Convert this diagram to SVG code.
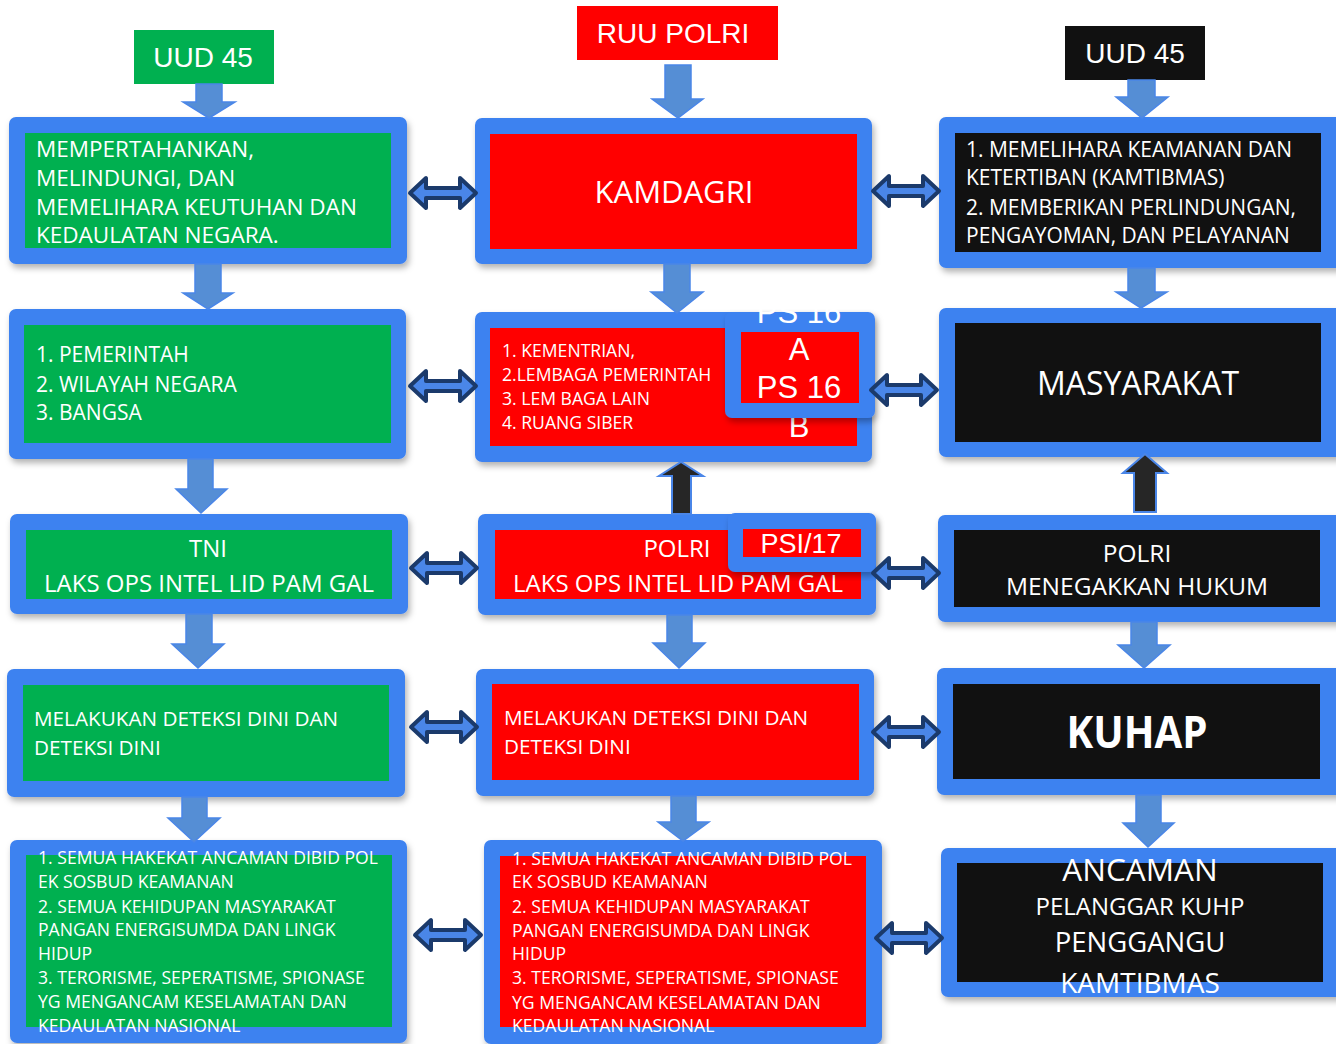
<svg xmlns="http://www.w3.org/2000/svg" xmlns:xlink="http://www.w3.org/1999/xlink" width="1336" height="1044" viewBox="0 0 1336 1044">
<defs>
<filter id="sh" x="-5%" y="-5%" width="115%" height="120%">
<feDropShadow dx="2" dy="4" stdDeviation="3" flood-color="#000" flood-opacity="0.3"/>
</filter>
<path id="dbl" d="M0,0 L16,-15 L16,-5 L50,-5 L50,-15 L66,0 L50,15 L50,5 L16,5 L16,15 Z"/>
</defs>
<style>
.outer{fill:#3E82F0;filter:url(#sh)}
.g{fill:#00B050}.r{fill:#FF0000}.k{fill:#111111}
.t{fill:#FFFFFF;font-family:"Open Sans","DejaVu Sans",sans-serif}
.a{fill:#FFFFFF;font-family:"Liberation Sans",Arial,sans-serif}
.c{text-anchor:middle}
.down{fill:#558ED5;stroke:#4A86E8;stroke-width:1.5}
.up{fill:#262626;stroke:#4A86E8;stroke-width:2}
.dbl{fill:#4A86E8;stroke:#1B3A6B;stroke-width:4;stroke-linejoin:round}
</style>
<rect width="1336" height="1044" fill="#FFFFFF"/>

<!-- headers -->
<g id="hdr-left"><rect x="134" y="30" width="140" height="54" class="g"/><text x="203" y="67" class="a c" font-size="28">UUD 45</text></g>
<g id="hdr-mid"><rect x="577" y="6" width="201" height="54" class="r"/><text x="673" y="43" class="a c" font-size="28">RUU POLRI</text></g>
<g id="hdr-right"><rect x="1065" y="26" width="140" height="54" class="k"/><text x="1135" y="63" class="a c" font-size="28">UUD 45</text></g>

<!-- left column -->
<g id="L1"><rect x="9" y="117" width="398" height="147" rx="7" class="outer"/><rect x="25" y="133" width="366" height="115" class="g"/>
<text class="t" font-size="22.5" x="36"><tspan x="36" y="157">MEMPERTAHANKAN,</tspan><tspan x="36" y="186">MELINDUNGI, DAN</tspan><tspan x="36" y="215">MEMELIHARA KEUTUHAN DAN</tspan><tspan x="36" y="243">KEDAULATAN NEGARA.</tspan></text></g>
<g id="L2"><rect x="9" y="309" width="397" height="150" rx="7" class="outer"/><rect x="24" y="325" width="367" height="118" class="g"/>
<text class="t" font-size="21"><tspan x="36" y="362">1. PEMERINTAH</tspan><tspan x="36" y="392">2. WILAYAH NEGARA</tspan><tspan x="36" y="420">3. BANGSA</tspan></text></g>
<g id="L3"><rect x="10" y="514" width="398" height="100" rx="7" class="outer"/><rect x="26" y="530" width="366" height="69" class="g"/>
<text class="t c" font-size="24"><tspan x="208" y="557">TNI</tspan><tspan x="209" y="592">LAKS OPS INTEL LID PAM GAL</tspan></text></g>
<g id="L4"><rect x="7" y="669" width="398" height="128" rx="7" class="outer"/><rect x="23" y="685" width="366" height="96" class="g"/>
<text class="t" font-size="20.7"><tspan x="34" y="726">MELAKUKAN DETEKSI DINI DAN</tspan><tspan x="34" y="755">DETEKSI DINI</tspan></text></g>
<g id="L5"><rect x="10" y="840" width="397" height="203" rx="7" class="outer"/><rect x="26" y="855" width="366" height="172" class="g"/>
<text class="t" font-size="17.6"><tspan x="38" y="864">1. SEMUA HAKEKAT ANCAMAN DIBID POL</tspan><tspan x="38" y="888">EK SOSBUD KEAMANAN</tspan><tspan x="38" y="913">2. SEMUA KEHIDUPAN MASYARAKAT</tspan><tspan x="38" y="936">PANGAN ENERGISUMDA DAN LINGK</tspan><tspan x="38" y="960">HIDUP</tspan><tspan x="38" y="984">3. TERORISME, SEPERATISME, SPIONASE</tspan><tspan x="38" y="1008">YG MENGANCAM KESELAMATAN DAN</tspan><tspan x="38" y="1032">KEDAULATAN NASIONAL</tspan></text></g>

<!-- middle column -->
<g id="M1"><rect x="475" y="118" width="397" height="146" rx="7" class="outer"/><rect x="490" y="134" width="367" height="115" class="r"/>
<text x="674" y="203" class="t c" font-size="31">KAMDAGRI</text></g>
<g id="M2"><rect x="475" y="312" width="397" height="150" rx="7" class="outer"/><rect x="490" y="328" width="367" height="118" class="r"/>
<text class="t" font-size="17.6"><tspan x="502" y="357">1. KEMENTRIAN,</tspan><tspan x="502" y="381">2.LEMBAGA PEMERINTAH</tspan><tspan x="502" y="405">3. LEM BAGA LAIN</tspan><tspan x="502" y="429">4. RUANG SIBER</tspan></text>
<text x="799" y="437" class="a c" font-size="31">B</text>
<rect x="725" y="312" width="150" height="106" rx="7" class="outer"/><rect x="741" y="332" width="118" height="71" class="r"/>
<text class="a c" font-size="31"><tspan x="799" y="323">PS 16</tspan><tspan x="799" y="360">A</tspan><tspan x="799" y="398">PS 16</tspan></text></g>
<g id="M3"><rect x="478" y="514" width="398" height="101" rx="7" class="outer"/><rect x="495" y="530" width="366" height="69" class="r"/>
<text class="t c" font-size="24"><tspan x="677" y="557">POLRI</tspan><tspan x="678" y="592">LAKS OPS INTEL LID PAM GAL</tspan></text>
<rect x="728" y="513" width="148" height="59" rx="7" class="outer"/><rect x="743" y="529" width="118" height="28" class="r"/>
<text x="801" y="553" class="a c" font-size="27">PSI/17</text></g>
<g id="M4"><rect x="476" y="669" width="398" height="127" rx="7" class="outer"/><rect x="492" y="684" width="367" height="96" class="r"/>
<text class="t" font-size="20.7"><tspan x="504" y="725">MELAKUKAN DETEKSI DINI DAN</tspan><tspan x="504" y="754">DETEKSI DINI</tspan></text></g>
<g id="M5"><rect x="484" y="840" width="398" height="204" rx="7" class="outer"/><rect x="500" y="856" width="366" height="171" class="r"/>
<text class="t" font-size="17.6"><tspan x="512" y="865">1. SEMUA HAKEKAT ANCAMAN DIBID POL</tspan><tspan x="512" y="888">EK SOSBUD KEAMANAN</tspan><tspan x="512" y="913">2. SEMUA KEHIDUPAN MASYARAKAT</tspan><tspan x="512" y="937">PANGAN ENERGISUMDA DAN LINGK</tspan><tspan x="512" y="960">HIDUP</tspan><tspan x="512" y="984">3. TERORISME, SEPERATISME, SPIONASE</tspan><tspan x="512" y="1009">YG MENGANCAM KESELAMATAN DAN</tspan><tspan x="512" y="1032">KEDAULATAN NASIONAL</tspan></text></g>

<!-- right column -->
<g id="R1"><rect x="939" y="117" width="405" height="151" rx="7" class="outer"/><rect x="955" y="133" width="366" height="119" class="k"/>
<text class="t" font-size="21"><tspan x="966" y="157">1. MEMELIHARA KEAMANAN DAN</tspan><tspan x="966" y="185">KETERTIBAN (KAMTIBMAS)</tspan><tspan x="966" y="215">2. MEMBERIKAN PERLINDUNGAN,</tspan><tspan x="966" y="243">PENGAYOMAN, DAN PELAYANAN</tspan></text></g>
<g id="R2"><rect x="939" y="308" width="405" height="149" rx="7" class="outer"/><rect x="955" y="323" width="366" height="119" class="k"/>
<text x="1138" y="395" class="t c" font-size="32">MASYARAKAT</text></g>
<g id="R3"><rect x="938" y="515" width="406" height="107" rx="7" class="outer"/><rect x="954" y="530" width="366" height="77" class="k"/>
<text class="t c" font-size="24.5"><tspan x="1137" y="562">POLRI</tspan><tspan x="1137" y="595">MENEGAKKAN HUKUM</tspan></text></g>
<g id="R4"><rect x="937" y="668" width="407" height="127" rx="7" class="outer"/><rect x="953" y="684" width="367" height="95" class="k"/>
<text x="1137" y="748" class="t c" font-size="44" font-weight="bold" textLength="141" lengthAdjust="spacingAndGlyphs">KUHAP</text></g>
<g id="R5"><rect x="941" y="848" width="403" height="149" rx="7" class="outer"/><rect x="957" y="863" width="366" height="119" class="k"/>
<text class="t c"><tspan x="1140" y="881" font-size="31.5">ANCAMAN</tspan><tspan x="1140" y="915" font-size="24">PELANGGAR KUHP</tspan><tspan x="1140" y="952" font-size="27.5">PENGGANGU</tspan><tspan x="1140" y="993" font-size="28">KAMTIBMAS</tspan></text></g>

<!-- connectors -->
<g id="connectors">
<path class="down" d="M196,84 L222,84 L222,102 L235,102 L209,118 L183,102 L196,102 Z"/>
<path class="down" d="M195,264 L221,264 L221,293 L233,293 L208,309 L183,293 L195,293 Z"/>
<path class="down" d="M188,459 L213,459 L213,489 L227,489 L201,513 L176,489 L188,489 Z"/>
<path class="down" d="M186,614 L212,614 L212,644 L224,644 L198,668 L172,644 L186,644 Z"/>
<path class="down" d="M182,797 L207,797 L207,818 L220,818 L194,842 L168,818 L182,818 Z"/>
<path class="down" d="M665,65 L691,65 L691,99 L703,99 L678,118 L652,99 L665,99 Z"/>
<path class="down" d="M664,264 L690,264 L690,292 L703,292 L677,313 L651,292 L664,292 Z"/>
<path class="down" d="M667,615 L692,615 L692,643 L705,643 L679,668 L653,643 L667,643 Z"/>
<path class="down" d="M671,796 L696,796 L696,822 L709,822 L683,841 L658,822 L671,822 Z"/>
<path class="down" d="M1128,80 L1155,80 L1155,97 L1168,97 L1142,118 L1116,97 L1128,97 Z"/>
<path class="down" d="M1128,268 L1155,268 L1155,292 L1167,292 L1141,308 L1116,292 L1128,292 Z"/>
<path class="down" d="M1131,622 L1157,622 L1157,645 L1170,645 L1144,668 L1118,645 L1131,645 Z"/>
<path class="down" d="M1136,795 L1161,795 L1161,823 L1174,823 L1148,847 L1123,823 L1136,823 Z"/>
<path class="up" d="M672,514 L691,514 L691,476 L703,476 L681,462 L659,476 L672,476 Z"/>
<path class="up" d="M1134,512 L1156,512 L1156,473 L1167,473 L1145,454 L1123,473 L1134,473 Z"/>
<use href="#dbl" class="dbl" x="410" y="193"/>
<use href="#dbl" class="dbl" x="873" y="191"/>
<use href="#dbl" class="dbl" x="410" y="386"/>
<use href="#dbl" class="dbl" x="871" y="390"/>
<use href="#dbl" class="dbl" x="411" y="568"/>
<use href="#dbl" class="dbl" x="873" y="573"/>
<use href="#dbl" class="dbl" x="411" y="727"/>
<use href="#dbl" class="dbl" x="873" y="732"/>
<use href="#dbl" class="dbl" x="415" y="935"/>
<use href="#dbl" class="dbl" x="876" y="938"/>
</g>
</svg>
